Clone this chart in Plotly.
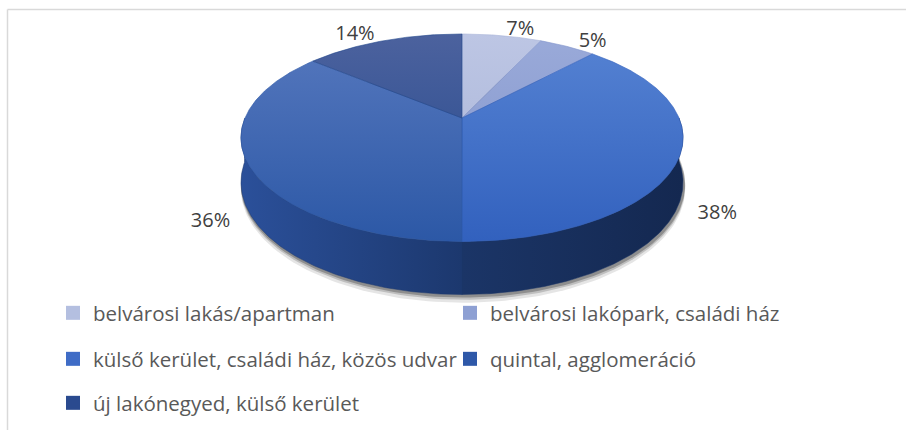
import numpy as np
import plotly.graph_objects as go

# ---------------- data ----------------
categories = [
    "belvárosi lakás/apartman",
    "belvárosi lakópark, családi ház",
    "külső kerület, családi ház, közös udvar",
    "quintal, agglomeráció",
    "új lakónegyed, külső kerület",
]
values = [7, 5, 38, 36, 14]
value_labels = ["7%", "5%", "38%", "36%", "14%"]

# colours: top face (upper, lower), legend swatch, side wall (outer, inner)
top_colors = [
    ("#BDC6E4", "#A6B2D6"),
    ("#9AAAD9", "#8194CB"),
    ("#5683D3", "#3261BE"),
    ("#5678BE", "#2C58A6"),
    ("#4C629E", "#22478C"),
]
legend_colors = ["#B4BFE0", "#8EA0D3", "#3F6CC6", "#2E58A8", "#2A4A8F"]
side_colors = [
    ("#8E9CC4", "#7C8BB8"),
    ("#6F83BC", "#6276B0"),
    ("#142850", "#1B3567"),
    ("#2B509A", "#1C386E"),
    ("#1E3A75", "#1A3468"),
]

# ---------------- 3-D pie geometry (layout constants, px) ----------------
W, H = 906, 430
CX, CY = 462, 118          # projected pie centre (apex of the slices)
A, B = 217, 100            # horizontal / depth radius
P = 0.19                   # perspective strength
D = 43                     # pie thickness
FONT = "Open Sans"


def proj(theta_deg, h=0.0, r=1.0):
    """Project a point of the pie rim (angle clockwise from 12 o'clock)."""
    t = np.radians(theta_deg)
    X, Z = r * np.sin(t), r * np.cos(t)
    k = 1.0 / (1.0 + P * Z)
    return CX + A * X * k, CY + (-B * Z + D * h) * k


total = float(sum(values))
ends = np.cumsum(values) / total * 360.0
starts = np.concatenate([[0.0], ends[:-1]])

fig = go.Figure()

# soft shadow beneath the pie
for off, alpha in [(6, 0.10), (3.5, 0.17), (1.8, 0.25)]:
    th = np.linspace(0, 360, 241)
    sx, sy = proj(th, h=1.0 + off / D, r=1.005)
    fig.add_trace(go.Scatter(x=sx + 1, y=sy, mode="lines", fill="toself",
                             fillcolor=f"rgba(0,0,0,{alpha})",
                             line=dict(width=0, color="rgba(0,0,0,0)"),
                             hoverinfo="skip", showlegend=False))

# side walls (front half)
for i in range(len(values)):
    a, b = max(starts[i], 90.0), min(ends[i], 270.0)
    if a >= b:
        continue
    th = np.linspace(a, b, 120)
    x1, y1 = proj(th)
    x2, y2 = proj(th[::-1], h=1.0)
    xs = np.concatenate([x1, x2, x1[:1]])
    ys = np.concatenate([y1, y2, y1[:1]])
    outer, inner = side_colors[i]
    if np.sin(np.radians((a + b) / 2)) < 0:
        cs = [[0, outer], [1, inner]]
    else:
        cs = [[0, inner], [1, outer]]
    fig.add_trace(go.Scatter(x=xs, y=ys, mode="lines", fill="toself",
                             fillcolor=inner,
                             fillgradient=dict(type="horizontal", colorscale=cs),
                             line=dict(width=0.5, color=inner),
                             hoverinfo="skip", showlegend=False))

# top faces
ytop, ybot = proj(0.0)[1], proj(180.0)[1]
for i in range(len(values)):
    th = np.linspace(starts[i], ends[i], max(int(ends[i] - starts[i]) * 2, 8))
    x1, y1 = proj(th)
    xs = np.concatenate([[CX], x1, [CX]])
    ys = np.concatenate([[CY], y1, [CY]])
    c_top, c_bot = top_colors[i]
    fig.add_trace(go.Scatter(x=xs, y=ys, mode="lines", fill="toself",
                             fillcolor=c_bot,
                             fillgradient=dict(type="vertical",
                                               colorscale=[[0, c_top], [1, c_bot]],
                                               start=ytop, stop=ybot),
                             line=dict(width=0.6, color=c_bot),
                             hoverinfo="skip", showlegend=False))

# data labels
lx, ly, lpos = [], [], []
for i in range(len(values)):
    mid = (starts[i] + ends[i]) / 2
    s, c = np.sin(np.radians(mid)), np.cos(np.radians(mid))
    ex, ey = proj(mid, h=(1.0 if c < 0 else 0.0))
    lx.append(ex + 20 * s)
    ly.append(ey - (6 if c > 0 else -6) * abs(c) + (8 if c < 0 else 0))
    lpos.append("middle right" if s > 0 else "middle left")
fig.add_trace(go.Scatter(x=lx, y=ly, mode="text", text=value_labels,
                         textposition=lpos,
                         textfont=dict(family=FONT, size=20, color="#404040"),
                         hoverinfo="skip", showlegend=False))

# legend entries (three rows, two columns)
legend_ids = ["legend", "legend", "legend2", "legend2", "legend3"]
for i, name in enumerate(categories):
    fig.add_trace(go.Scatter(x=[None], y=[None], mode="markers", name=name,
                             marker=dict(symbol="square", size=14, color=legend_colors[i],
                                         line=dict(width=0)),
                             legend=legend_ids[i], hoverinfo="skip"))

leg_common = dict(orientation="h", xanchor="left", yanchor="middle",
                  x=53 / W, entrywidth=352, entrywidthmode="pixels",
                  font=dict(family=FONT, size=20.5, color="#595959"),
                  bgcolor="rgba(0,0,0,0)", borderwidth=0,
                  itemclick=False, itemdoubleclick=False)

fig.update_layout(
    width=W, height=H, autosize=False,
    margin=dict(l=0, r=0, t=0, b=0),
    paper_bgcolor="white", plot_bgcolor="white",
    xaxis=dict(range=[0, W], visible=False, fixedrange=True),
    yaxis=dict(range=[H, 0], visible=False, fixedrange=True),
    legend=dict(leg_common, y=1 - 313 / H),
    legend2=dict(leg_common, y=1 - 359 / H),
    legend3=dict(leg_common, y=1 - 403 / H),
    shapes=[
        dict(type="line", xref="x", yref="y", x0=7.5, x1=W + 5, y0=9.5, y1=9.5,
             line=dict(color="#D9D9D9", width=1.5)),
        dict(type="line", xref="x", yref="y", x0=7.5, x1=7.5, y0=9.5, y1=H + 5,
             line=dict(color="#D9D9D9", width=1.5)),
    ],
    showlegend=True,
)

fig.write_html("out.html",
               config={"displayModeBar": False},
               post_script="document.body.style.margin='0';document.body.style.overflow='hidden';")
